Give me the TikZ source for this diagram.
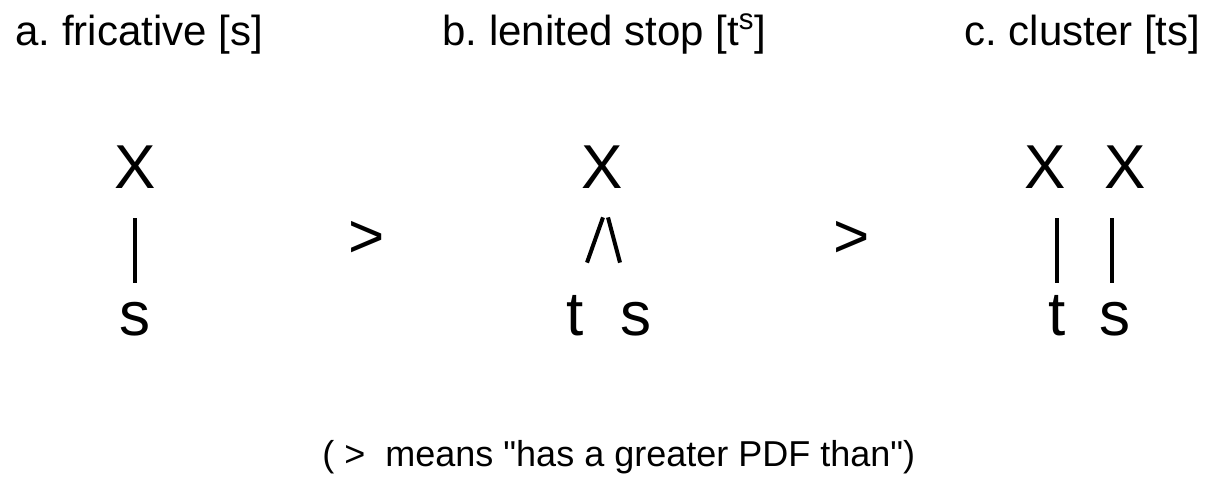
\documentclass[tikz,border=0pt]{standalone}
\usepackage{fontspec}
\setmainfont{Liberation Sans}
\usetikzlibrary{calc,positioning}
\frenchspacing

\begin{document}
\begin{tikzpicture}[x=0.5pt,y=-0.5pt,
  seg/.style={inner sep=0pt, anchor=base, text height=22pt, text depth=0pt,
    font=\fontsize{31}{37}\selectfont},
  head/.style={inner sep=0pt, anchor=base west, font=\fontsize{21}{26}\selectfont},
  assoc/.style={black, line width=2pt}]
 \useasboundingbox (0,0) rectangle (1210,482);
 % column headings
 \node[head] (la) at (15,45) {a. fricative [s]};
 \node[head] (lb) at (442,45) {b. lenited stop [t\textsuperscript{s}]};
 \node[head] (lc) at (964,45) {c. cluster [ts]};
 % a. one slot, one segment
 \node[seg] (xa) at (135,188) {X};
 \node[seg] (sa) at (135,335) {s};
 \draw[assoc, shorten <=15pt, shorten >=4pt] (xa) -- (sa);
 % b. one slot, two segments
 \node[seg] (xb) at (602,188) {X};
 \node[seg] (tb) at (575,335) {t};
 \node[seg] (sb) at (636,335) {s};
 \draw[assoc] ($(xb.south)+(1,29)$) -- ($(tb.north)+(12,-28)$);
 \draw[assoc] ($(xb.south)+(6,29)$) -- ($(sb.north)+(-16,-28)$);
 % c. two slots
 \node[seg] (xc1) at (1045,188) {X};
 \node[seg] (xc2) at (1125,188) {X};
 \node[seg] (tc) at (1057,335) {t};
 \node[seg] (sc) at (1115,335) {s};
 \draw[assoc] ($(xc1.south)+(12,30)$) -- ($(tc.north)+(0,-8)$);
 \draw[assoc] ($(xc2.south)+(-13,30)$) -- ($(sc.north)+(-3,-8)$);
 % ranking
 \node[inner sep=0pt, font=\fontsize{31}{37}\selectfont] (gt1) at (367,239) {>};
 \node[inner sep=0pt, font=\fontsize{31}{37}\selectfont] (gt2) at (852,239) {>};
 \node[inner sep=0pt, anchor=base west, font=\fontsize{18}{22}\selectfont] (note) at (322,466)
   {( >\ \ means \textquotedbl has a greater PDF than\textquotedbl)};
\end{tikzpicture}
\end{document}
